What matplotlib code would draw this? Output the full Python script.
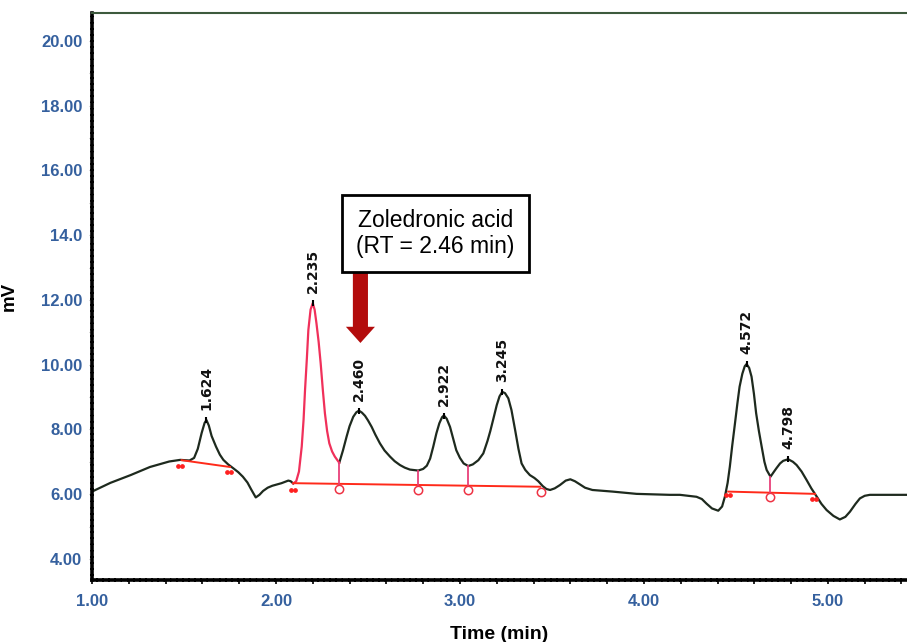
import matplotlib.pyplot as plt
from matplotlib.patches import FancyArrow
from matplotlib.ticker import FixedLocator, MultipleLocator

# chromatogram trace (time in min, signal in mV)
time_a = [1.00, 1.10, 1.21, 1.315, 1.42, 1.48, 1.53, 1.555, 1.575, 1.596,
          1.612, 1.622, 1.635, 1.65, 1.674, 1.695, 1.714, 1.74, 1.768, 1.795,
          1.82, 1.845, 1.865, 1.89, 1.91, 1.93, 1.955, 1.98, 2.03, 2.067,
          2.08, 2.094]
mv_a = [6.08, 6.35, 6.59, 6.84, 7.01, 7.06, 7.04, 7.12, 7.40, 7.89,
        8.20, 8.29, 8.12, 7.80, 7.47, 7.22, 7.06, 6.92, 6.80, 6.68,
        6.54, 6.36, 6.15, 5.90, 5.98, 6.10, 6.20, 6.26, 6.34, 6.42,
        6.40, 6.33]

# the 2.235 peak, drawn in red by the integrator
time_b = [2.094, 2.11, 2.125, 2.14, 2.15, 2.158, 2.168, 2.176, 2.188, 2.200,
          2.21, 2.22, 2.232, 2.243, 2.255, 2.266, 2.278, 2.29, 2.305, 2.32,
          2.344]
mv_b = [6.33, 6.40, 6.70, 7.47, 8.30, 9.22, 10.20, 11.07, 11.70, 11.90,
        11.70, 11.28, 10.70, 10.04, 9.20, 8.50, 7.95, 7.57, 7.32, 7.16,
        6.97]

time_c = [2.344, 2.364, 2.384, 2.40, 2.42, 2.437, 2.451, 2.467, 2.484, 2.50,
          2.52, 2.54, 2.565, 2.59, 2.62, 2.645, 2.674, 2.70, 2.728, 2.773,
          2.80, 2.82, 2.838, 2.855, 2.872, 2.888, 2.903, 2.913, 2.928, 2.946,
          2.963, 2.98, 3.00, 3.02, 3.045, 3.07, 3.10, 3.127, 3.15, 3.165,
          3.18, 3.20, 3.215, 3.23, 3.245, 3.263, 3.28, 3.30, 3.318, 3.335,
          3.355, 3.38, 3.405, 3.426, 3.45, 3.47, 3.49, 3.515, 3.543, 3.575,
          3.60, 3.625, 3.65, 3.68, 3.72, 3.83, 3.96, 4.14, 4.196, 4.286,
          4.315, 4.34, 4.37, 4.404, 4.425, 4.44, 4.455, 4.467, 4.48, 4.495,
          4.508, 4.52, 4.535, 4.548, 4.558, 4.572, 4.585, 4.598, 4.61, 4.625,
          4.64, 4.655, 4.667, 4.688, 4.705, 4.72, 4.74, 4.757, 4.784, 4.81,
          4.83, 4.857, 4.884, 4.91, 4.94, 4.965, 4.993, 5.03, 5.065, 5.095,
          5.12, 5.15, 5.174, 5.20, 5.228, 5.355, 5.43]
mv_c = [6.97, 7.35, 7.78, 8.10, 8.39, 8.53, 8.58, 8.52, 8.42, 8.28,
        8.08, 7.84, 7.57, 7.35, 7.16, 7.02, 6.90, 6.82, 6.76, 6.73,
        6.78, 6.88, 7.10, 7.47, 7.88, 8.19, 8.38, 8.43, 8.33, 8.08,
        7.72, 7.36, 7.12, 6.95, 6.87, 6.92, 7.05, 7.26, 7.65, 7.95,
        8.29, 8.75, 9.02, 9.16, 9.12, 8.96, 8.60, 7.98, 7.40, 6.95,
        6.75, 6.59, 6.50, 6.40, 6.25, 6.16, 6.13, 6.18, 6.28, 6.42,
        6.46, 6.40, 6.31, 6.20, 6.13, 6.08, 6.01, 5.98, 5.98, 5.92,
        5.85, 5.71, 5.56, 5.49, 5.62, 5.92, 6.35, 6.85, 7.50, 8.19,
        8.80, 9.32, 9.72, 9.95, 10.02, 9.90, 9.63, 9.10, 8.50, 7.95,
        7.47, 7.00, 6.75, 6.54, 6.68, 6.80, 6.95, 7.03, 7.08, 7.00,
        6.90, 6.70, 6.44, 6.18, 5.92, 5.70, 5.51, 5.33, 5.22, 5.30,
        5.46, 5.70, 5.87, 5.95, 5.98, 5.98, 5.98]

# peak apexes and their retention-time labels
peak_labels = ["1.624", "2.235", "2.460", "2.922", "3.245", "4.572", "4.798"]
peak_t = [1.622, 2.200, 2.451, 2.913, 3.23, 4.558, 4.784]
peak_mv = [8.29, 11.90, 8.58, 8.43, 9.16, 10.02, 7.08]

# integration baselines
base_t = [[1.487, 1.75], [2.094, 3.435], [4.458, 4.93]]
base_mv = [[7.05, 6.84], [6.34, 6.23], [6.08, 6.01]]

# drop lines at valleys
drop_t = [2.344, 2.773, 3.045, 4.688]
drop_top = [6.97, 6.73, 6.87, 6.54]
drop_bot = [6.32, 6.28, 6.26, 6.05]

circle_t = [2.344, 2.773, 3.045, 3.44, 4.688]
circle_mv = [6.17, 6.14, 6.12, 6.06, 5.92]
dots_t = [1.478, 1.746, 2.094, 4.455, 4.925]
dots_mv = [6.87, 6.69, 6.14, 5.96, 5.85]

ytick_vals = [4, 6, 8, 10, 12, 14, 16, 18, 20]
ytick_text = ["4.00", "6.00", "8.00", "10.00", "12.00", "14.0", "16.00", "18.00", "20.00"]
xtick_vals = [1, 2, 3, 4, 5]
xtick_text = ["1.00", "2.00", "3.00", "4.00", "5.00"]

blue = "#35609e"
trace_col = "#1e2a1e"

fig = plt.figure(figsize=(9.07, 6.42), dpi=100)
ax = fig.add_axes([92 / 907, 62 / 642, 815 / 907, 567 / 642])

ax.plot(time_a, mv_a, color=trace_col, lw=1.6)
ax.plot(time_c, mv_c, color=trace_col, lw=1.6)
ax.plot(time_b, mv_b, color="#f0305a", lw=1.6)

for bt, bv in zip(base_t, base_mv):
    ax.plot(bt, bv, color="#ff2a1a", lw=1.4)
for t, top, bot in zip(drop_t, drop_top, drop_bot):
    ax.plot([t, t], [bot, top], color="#e8407a", lw=1.3)
ax.plot(circle_t, circle_mv, "o", ms=6, mfc="white", mec="#ee3344", mew=1.1)
for t, v in zip(dots_t, dots_mv):
    ax.plot([t - 0.011, t + 0.011], [v, v], "o", ms=2.4, color="#ff2020")

# apex markers and rotated labels
ax.plot(peak_t, peak_mv, "|", ms=5, mew=1.5, color="black")
for lab, t, v in zip(peak_labels, peak_t, peak_mv):
    ax.annotate(lab, (t, v), xytext=(0, 7), textcoords="offset points",
                rotation=90, ha="center", va="bottom", fontsize=10,
                fontweight="bold", family="DejaVu Sans", color="#111111")

# callout box and arrow
ax.text(2.867, 14.05, "Zoledronic acid\n(RT = 2.46 min)", ha="center", va="center",
        fontsize=16.5, family="Liberation Sans", linespacing=1.15,
        bbox=dict(boxstyle="square,pad=0.62", fc="white", ec="black", lw=2))
ax.add_patch(FancyArrow(2.459, 12.86, 0, -2.19, width=0.082, head_width=0.158,
                        head_length=0.5, length_includes_head=True,
                        color="#b30c0c", lw=0))

ax.set_xlim(1.0, 5.43)
ax.set_ylim(3.35, 20.86)

ax.xaxis.set_major_locator(FixedLocator(xtick_vals))
ax.set_xticklabels(xtick_text)
ax.xaxis.set_minor_locator(MultipleLocator(0.2))
ax.yaxis.set_major_locator(FixedLocator(ytick_vals))
ax.set_yticklabels(ytick_text)
ax.yaxis.set_minor_locator(MultipleLocator(1))

ax.tick_params(axis="x", which="both", direction="out", length=3, width=1.2,
               color="black", pad=7)
ax.tick_params(axis="y", which="both", direction="out", length=2, width=0.8,
               color="#bbbbbb", pad=5)
for lab in ax.get_xticklabels() + ax.get_yticklabels():
    lab.set_fontfamily("Liberation Sans")
    lab.set_fontweight("bold")
    lab.set_fontsize(12)
    lab.set_color(blue)

ax.spines["right"].set_visible(False)
ax.spines["top"].set_color("#3d5a3d")
ax.spines["top"].set_linewidth(1.5)
for side in ["left", "bottom"]:
    ax.spines[side].set_linestyle((0, (1.0, 0.7)))
    ax.spines[side].set_linewidth(2.6)
    ax.spines[side].set_color("black")

ax.set_xlabel("Time (min)", fontsize=14, fontweight="bold", family="Liberation Sans")
ax.xaxis.set_label_coords(0.5, -0.082)
ax.set_ylabel("mV", fontsize=13.5, fontweight="bold", family="Liberation Sans")
ax.yaxis.set_label_coords(-0.091, 0.5)

fig.savefig("out.png", dpi=100)
